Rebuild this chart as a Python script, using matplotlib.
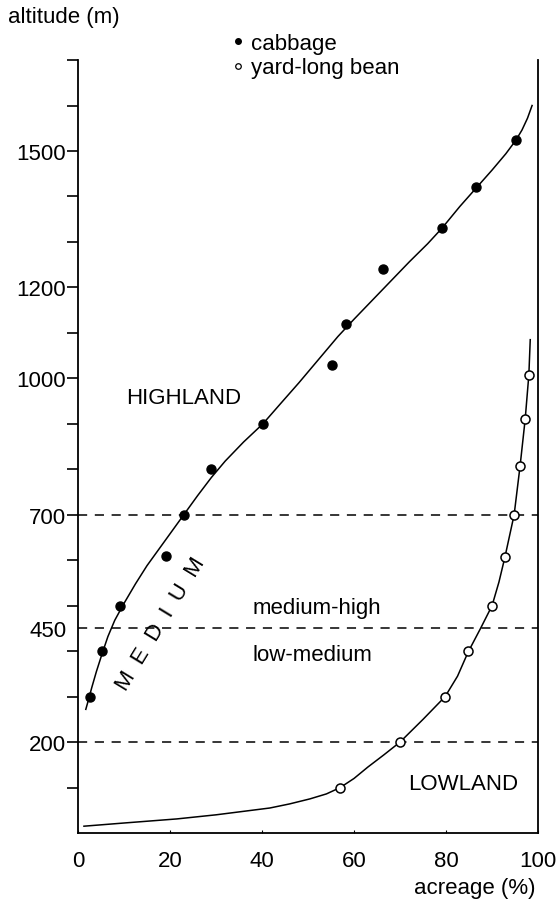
import matplotlib
matplotlib.use("Agg")
from matplotlib import pyplot as plt
from matplotlib.lines import Line2D

plt.rcParams['font.family'] = ['Liberation Sans', 'DejaVu Sans']

# observed points, acreage (%) vs altitude (m)
cabbage_x = [2.6, 5.2, 9.1, 19.1, 23.0, 28.9, 40.2, 55.2, 58.3, 66.3, 79.1, 86.5, 95.2]
cabbage_alt = [300, 400, 500, 610, 700, 800, 900, 1030, 1120, 1240, 1330, 1420, 1525]

bean_x = [57.0, 70.0, 79.8, 84.8, 90.0, 92.8, 94.8, 96.1, 97.2, 98.0]
bean_alt = [100, 200, 300, 400, 500, 607, 700, 808, 910, 1008]

# fitted curves
cabbage_curve_x = [1.7, 2.2, 3.0, 4.0, 5.2, 6.5, 8.0, 10.0, 12.5, 15.0, 18.0, 21.0, 23.0,
                   26.0, 29.0, 32.0, 36.0, 40.2, 44.0, 48.0, 52.0, 56.5, 60.0, 64.0, 68.0,
                   72.0, 76.0, 79.1, 83.0, 86.5, 90.0, 93.0, 95.2, 96.5, 97.7, 98.7]
cabbage_curve_alt = [272, 290, 320, 355, 393, 432, 468, 505, 548, 588, 630, 672, 700,
                     742, 782, 818, 860, 900, 944, 990, 1038, 1092, 1130, 1172, 1214,
                     1256, 1296, 1330, 1378, 1418, 1458, 1494, 1524, 1546, 1572, 1600]

bean_curve_x = [1.3, 10.0, 21.5, 30.0, 41.7, 46.0, 50.4, 54.0, 57.0, 60.0, 63.0, 66.5, 70.0,
                75.0, 79.8, 82.5, 84.8, 87.5, 90.0, 91.5, 92.8, 94.8, 96.1, 97.2, 98.0, 98.3]
bean_curve_alt = [15, 22, 31, 40, 55, 64, 75, 86, 100, 120, 145, 172, 200,
                  250, 300, 345, 398, 450, 500, 552, 607, 700, 808, 910, 1008, 1085]

zone_limits = [200, 450, 700]

y_ticks = list(range(100, 1800, 100))
y_labels = {200: '200', 700: '700', 1000: '1000', 1200: '1200', 1500: '1500'}
x_ticks = [0, 20, 40, 60, 80, 100]

fig = plt.figure(figsize=(5.57, 9.03), dpi=100)
ax = fig.add_axes([0.140, 0.0764, 0.826, 0.856])

for lim in zone_limits:
    ax.plot([0, 100], [lim, lim], color='black', lw=1.1, dashes=(6, 5))

ax.plot(cabbage_curve_x, cabbage_curve_alt, color='black', lw=1.1)
ax.plot(bean_curve_x, bean_curve_alt, color='black', lw=1.1)
ax.plot(cabbage_x, cabbage_alt, 'o', color='black', ms=6.5, zorder=3)
ax.plot(bean_x, bean_alt, 'o', mfc='white', mec='black', mew=1.1, ms=6.5, zorder=3)

fs = 16
ax.text(23, 958, 'HIGHLAND', fontsize=fs, ha='center', va='center')
ax.text(52, 497, 'medium-high', fontsize=fs, ha='center', va='center')
ax.text(51, 393, 'low-medium', fontsize=fs, ha='center', va='center')
ax.text(83.7, 108, 'LOWLAND', fontsize=fs, ha='center', va='center')
ax.text(18.0, 461, 'M  E  D  I  U  M', fontsize=fs, ha='center', va='center',
        rotation=58.6, rotation_mode='anchor')

ax.set_xlim(0, 100)
ax.set_ylim(0, 1700)
ax.spines['top'].set_visible(False)
for s in ['left', 'right', 'bottom']:
    ax.spines[s].set_linewidth(1.3)

ax.set_yticks(y_ticks, [y_labels.get(t, '') for t in y_ticks])
ax.set_yticks([450], ['450'], minor=True)
ax.tick_params(axis='y', which='major', direction='out', length=8, width=1.2, pad=0.5, labelsize=fs)
ax.tick_params(axis='y', which='minor', length=0, pad=8.5, labelsize=fs)
ax.set_xticks(x_ticks, [str(t) for t in x_ticks])
ax.tick_params(axis='x', direction='in', length=2, width=0.8, pad=12, labelsize=fs)

fig.text(8 / 557, 1 - 18 / 903, 'altitude (m)', fontsize=fs, ha='left', va='center')
fig.text(536 / 557, 1 - 889 / 903, 'acreage (%)', fontsize=fs, ha='right', va='center')

handles = [Line2D([], [], ls='none', marker='o', color='black', ms=4),
           Line2D([], [], ls='none', marker='o', mfc='white', mec='black', mew=0.9, ms=4)]
fig.legend(handles, ['cabbage', 'yard-long bean'], loc='upper left',
           bbox_to_anchor=(231 / 557, 1 - 34 / 903), frameon=False, fontsize=fs,
           handlelength=0.6, handletextpad=0.3, labelspacing=0.15, borderpad=0,
           borderaxespad=0)

fig.savefig('out.png', dpi=100)
